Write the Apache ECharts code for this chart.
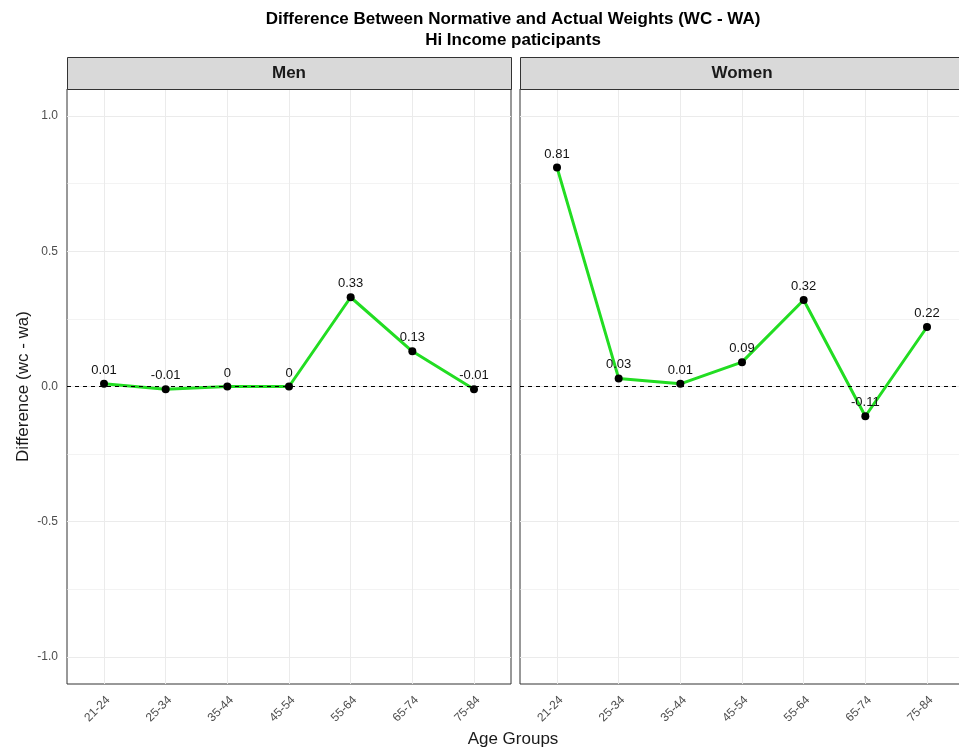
<!DOCTYPE html>
<html>
<head>
<meta charset="utf-8">
<script src="https://cdn.jsdelivr.net/npm/echarts@6/dist/echarts.min.js"></script>
<style>
  html, body { margin: 0; padding: 0; background: #fff; overflow: hidden; }
  /* the right-hand panel runs a few pixels past the window edge */
  #chart { width: 972px; height: 749px; }
</style>
</head>
<body>
<div id="chart"></div>
<script>
// Age groups shared by both panels
const ageGroups = ['21-24', '25-34', '35-44', '45-54', '55-64', '65-74', '75-84'];
// Difference (wc - wa) per age group
const menDiff = [0.01, -0.01, 0, 0, 0.33, 0.13, -0.01];
const womenDiff = [0.81, 0.03, 0.01, 0.09, 0.32, -0.11, 0.22];
const panelNames = ['Men', 'Women'];
// Y axis ticks and minor grid positions
const yTicks = [-1, -0.5, 0, 0.5, 1];
const yMinor = [-0.75, -0.25, 0.25, 0.75];

const FONT = '"Liberation Sans", Arial, sans-serif';
const xIdx = ageGroups.map((_, i) => i);
const panels = [
  { left: 67, width: 444 },
  { left: 520, width: 444 }
];
const TOP = 89, HEIGHT = 595, STRIP_H = 32;

const grids = panels.map(p => ({
  left: p.left, top: TOP, width: p.width, height: HEIGHT,
  show: true, borderColor: '#333333', borderWidth: 1, backgroundColor: '#ffffff'
}));

const xAxes = panels.map((p, k) => ({
  type: 'value', gridIndex: k, min: -0.6, max: 6.6,
  axisLine: { show: false },
  splitLine: { show: false },
  axisTick: { show: true, customValues: xIdx, length: 4, lineStyle: { color: '#333333' } },
  axisLabel: {
    show: true, customValues: xIdx, rotate: 45, margin: 10, verticalAlign: 'top',
    color: '#4d4d4d', fontSize: 12, fontFamily: FONT,
    formatter: v => ageGroups[Math.round(v)]
  }
}));

const yAxes = panels.map((p, k) => ({
  type: 'value', gridIndex: k, min: -1.1, max: 1.1,
  axisLine: { show: false },
  splitLine: { show: false },
  axisTick: { show: k === 0, customValues: yTicks, length: 4, lineStyle: { color: '#333333' } },
  axisLabel: {
    show: k === 0, customValues: yTicks, margin: 9,
    color: '#4d4d4d', fontSize: 12, fontFamily: FONT,
    formatter: v => v.toFixed(1)
  },
  name: k === 0 ? 'Difference (wc - wa)' : '',
  nameLocation: 'middle', nameGap: 35, nameRotate: 90,
  nameTextStyle: { color: '#1a1a1a', fontSize: 17, fontFamily: FONT }
}));

const series = [];
panels.forEach((p, k) => {
  // background grid lines
  const gridLines = []
    .concat(yMinor.map(v => ({ yAxis: v, lineStyle: { width: 0.6 } })))
    .concat(yTicks.map(v => ({ yAxis: v, lineStyle: { width: 1 } })))
    .concat(xIdx.map(v => ({ xAxis: v, lineStyle: { width: 1 } })));
  series.push({
    type: 'line', xAxisIndex: k, yAxisIndex: k, data: [], z: 1, silent: true,
    markLine: {
      z: 1, silent: true, symbol: 'none', label: { show: false }, animation: false,
      lineStyle: { color: '#ebebeb', type: 'solid' },
      data: gridLines
    }
  });
  const pts = (k === 0 ? menDiff : womenDiff).map((v, i) => [i, v]);
  // connecting line
  series.push({
    name: panelNames[k],
    type: 'line', xAxisIndex: k, yAxisIndex: k, z: 3,
    data: pts, symbol: 'none',
    lineStyle: { color: '#22dd22', width: 3 },
    animation: false
  });
  // zero reference line
  series.push({
    type: 'line', xAxisIndex: k, yAxisIndex: k, data: [], z: 4, silent: true,
    markLine: {
      z: 4, silent: true, symbol: 'none', label: { show: false }, animation: false,
      lineStyle: { color: '#000000', type: [4, 4], width: 1 },
      data: [{ yAxis: 0 }]
    }
  });
  // points with value labels
  series.push({
    name: panelNames[k],
    type: 'scatter', xAxisIndex: k, yAxisIndex: k, z: 5,
    data: pts,
    itemStyle: { color: '#000000', opacity: 1 },
    symbol: 'circle', symbolSize: 8,
    label: {
      show: true, position: 'top', distance: 3,
      color: '#111111', fontSize: 13, fontFamily: FONT,
      formatter: prm => String(prm.value[1])
    },
    animation: false
  });
});

const graphics = [];
panels.forEach((p, k) => {
  graphics.push({
    type: 'rect', left: p.left, top: TOP - STRIP_H, z: 10,
    shape: { width: p.width, height: STRIP_H },
    style: { fill: '#d9d9d9', stroke: '#333333', lineWidth: 1 }
  });
  graphics.push({
    type: 'text', z: 11,
    x: p.left + p.width / 2, y: TOP - STRIP_H / 2,
    style: {
      text: panelNames[k], fill: '#1a1a1a', font: 'bold 17px ' + FONT,
      textAlign: 'center', textVerticalAlign: 'middle'
    }
  });
});
graphics.push({
  type: 'text', z: 11, x: 513, y: 739,
  style: {
    text: 'Age Groups', fill: '#1a1a1a', font: '17px ' + FONT,
    textAlign: 'center', textVerticalAlign: 'middle'
  }
});

const chart = echarts.init(document.getElementById('chart'), null, { renderer: 'canvas' });
chart.setOption({
  backgroundColor: '#ffffff',
  animation: false,
  title: {
    text: 'Difference Between Normative and Actual Weights (WC - WA)\nHi Income paticipants',
    left: 513, top: 9, padding: 0, textAlign: 'center',
    textStyle: { fontSize: 17, fontWeight: 'bold', color: '#000000', fontFamily: FONT, lineHeight: 21 }
  },
  grid: grids,
  xAxis: xAxes,
  yAxis: yAxes,
  series: series,
  graphic: graphics
});
</script>
</body>
</html>
